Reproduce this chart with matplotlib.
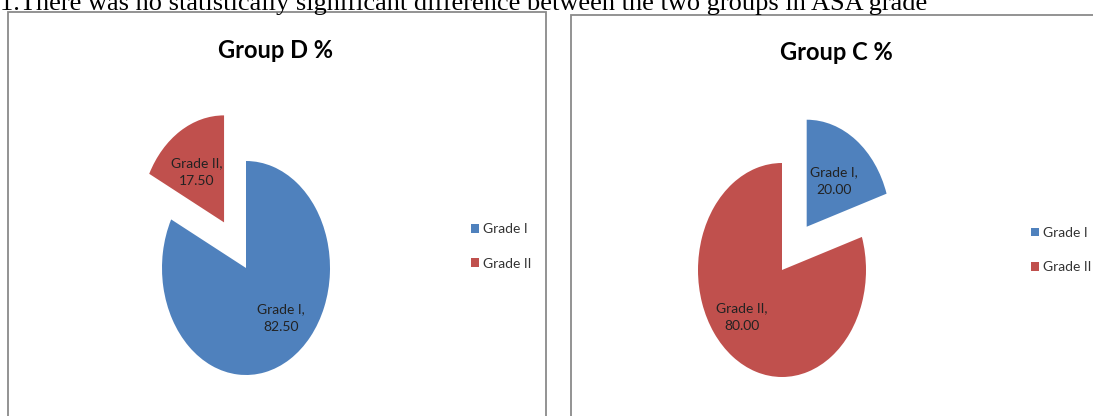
import matplotlib
matplotlib.use("Agg")
import matplotlib.pyplot as plt
from matplotlib.patches import Rectangle

categories = ["Grade I", "Grade II"]
group_d_values = [82.50, 17.50]
group_c_values = [20.00, 80.00]
titles = ["Group D %", "Group C %"]
caption = "1.There was no statistically significant difference between the two groups in ASA grade"

colors = ["#4F81BD", "#C0504D"]
sans = ["Lato", "DejaVu Sans"]

W, H = 1093, 416
fig = plt.figure(figsize=(W / 100, H / 100), dpi=100)


def fx(px):
    return px / W


def fy(py):
    return 1 - py / H


# panel borders
fig.patches.append(Rectangle((fx(8), fy(430)), fx(546) - fx(8), fy(12) - fy(430),
                             transform=fig.transFigure, fill=False,
                             edgecolor="#8a8a8a", linewidth=1.3))
fig.patches.append(Rectangle((fx(571), fy(430)), fx(1120) - fx(571), fy(15) - fy(430),
                             transform=fig.transFigure, fill=False,
                             edgecolor="#8a8a8a", linewidth=1.3))

# caption at top (partially clipped, as in the reference)
fig.text(fx(0), fy(10), caption, family="Liberation Serif", fontsize=19,
         ha="left", va="baseline", color="black")


def make_pie(box, center, rx, ry, values, explode, label_pos, title, title_xy, legend_xy):
    x0, y0, x1, y1 = box
    ax = fig.add_axes([fx(x0), fy(y1), fx(x1) - fx(x0), fy(y0) - fy(y1)])
    cx, cy = center
    labels = [f"{c},\n{v:.2f}" for c, v in zip(categories, values)]
    wedges, texts = ax.pie(values, colors=colors, startangle=90, counterclock=False,
                           explode=explode, labels=labels, labeldistance=0.5,
                           textprops=dict(family=sans, fontsize=10, color="#222222",
                                          ha="center", va="center", linespacing=1.55),
                           wedgeprops=dict(linewidth=0))
    ax.set_aspect("auto")
    ax.set_xlim((x0 - cx) / rx, (x1 - cx) / rx)
    ax.set_ylim((cy - y1) / ry, (cy - y0) / ry)
    ax.axis("off")
    for t, (px, py) in zip(texts, label_pos):
        t.set_position(((px - cx) / rx, (cy - py) / ry))
        t.set_horizontalalignment("center")
    fig.text(fx(title_xy[0]), fy(title_xy[1]), title, family=sans, fontsize=17,
             fontweight="bold", ha="center", va="center", color="black")
    fig.legend(wedges, categories, loc="center left",
               bbox_to_anchor=(fx(legend_xy[0]), fy(legend_xy[1])),
               frameon=False, prop=dict(family=sans, size=10),
               borderpad=0, borderaxespad=0,
               handlelength=0.6, handleheight=0.6, handletextpad=0.25,
               labelspacing=1.6, labelcolor="#333333")
    return ax


make_pie((10, 14, 545, 414), (246, 268), 84, 107, group_d_values, [0, 0.5],
         [(281, 318), (197, 172)], titles[0], (276, 50), (471, 246.5))
make_pie((573, 17, 1093, 414), (782, 270), 84, 107, group_c_values, [0.5, 0],
         [(834, 181), (742, 317)], titles[1], (836, 53), (1031, 250))

fig.savefig("out.png", dpi=100)
